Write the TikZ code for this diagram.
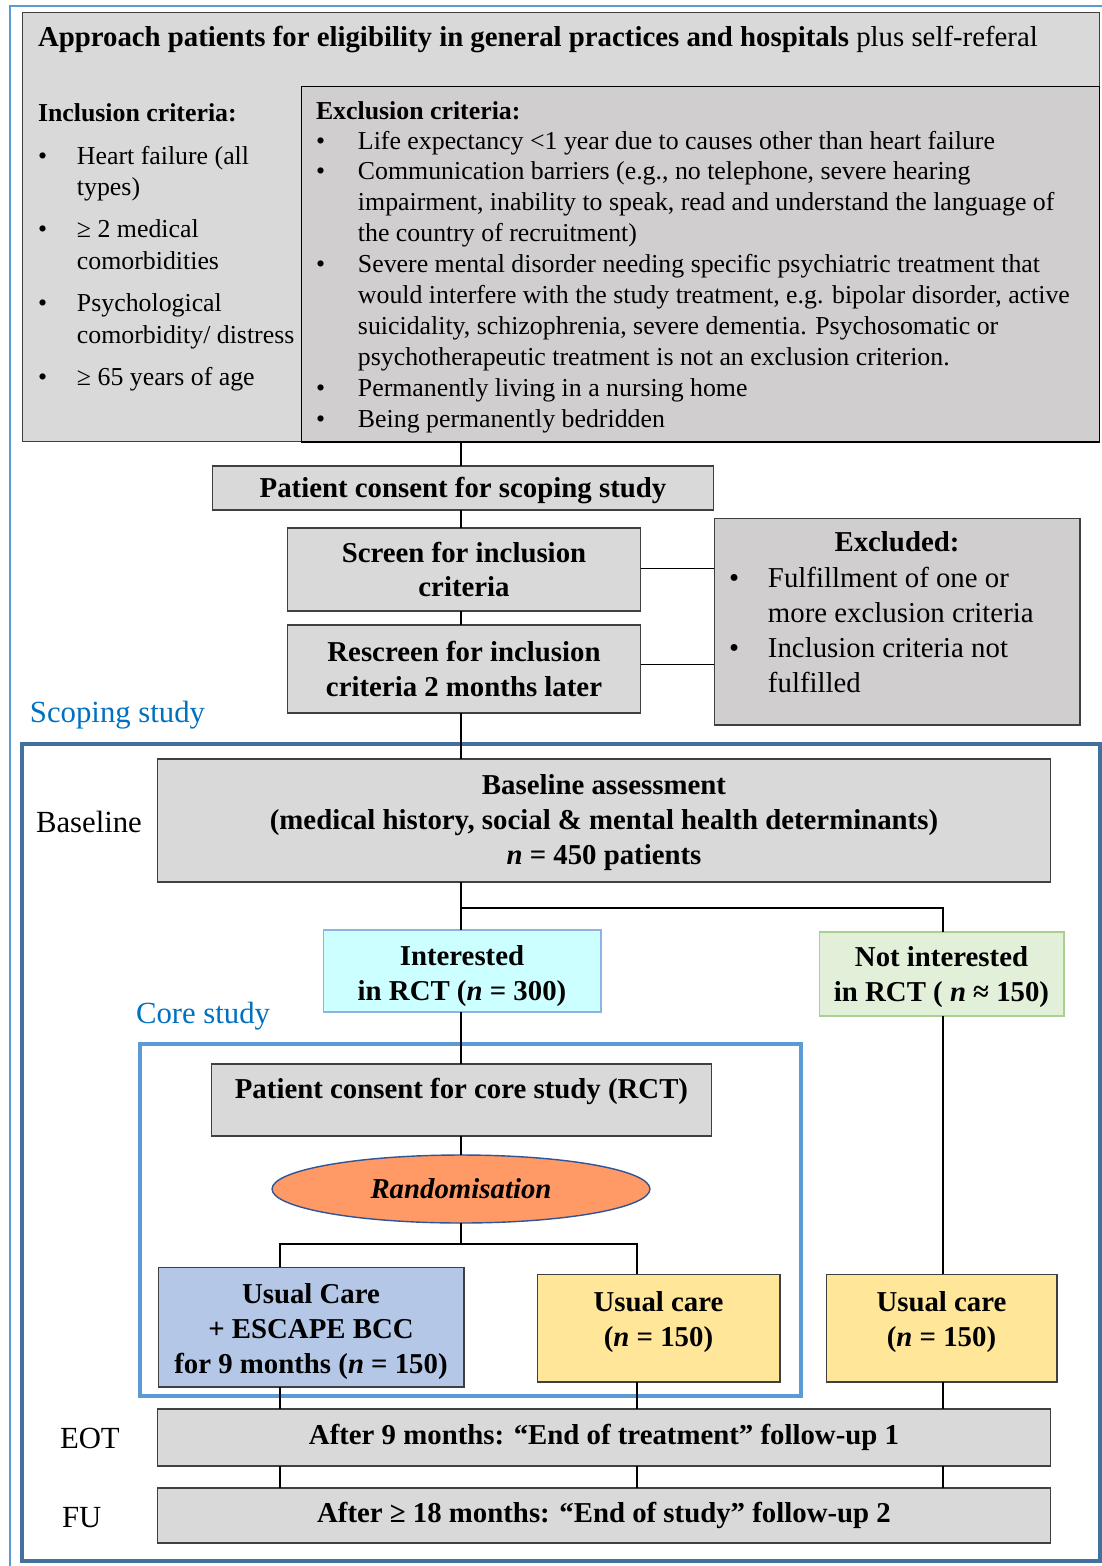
\documentclass[tikz,border=0pt]{standalone}
\usepackage{fontspec}
\setmainfont{Liberation Serif}
\usetikzlibrary{positioning, shapes.geometric}

\definecolor{boxgray}{HTML}{D9D9D9}
\definecolor{critgray}{HTML}{D0CECE}
\definecolor{labelblue}{HTML}{0070C0}
\definecolor{outerblue}{HTML}{5B9BD5}
\definecolor{frameblue}{HTML}{41719C}
\definecolor{intcyan}{HTML}{CCFFFF}
\definecolor{intedge}{HTML}{8DB3E2}
\definecolor{notgreen}{HTML}{E2EFD9}
\definecolor{notedge}{HTML}{A9D08E}
\definecolor{randorange}{HTML}{FF9966}
\definecolor{randedge}{HTML}{2F5597}
\definecolor{escblue}{HTML}{B4C7E7}
\definecolor{ucyellow}{HTML}{FFE699}

\newcommand{\bodyfont}{\fontsize{14.7}{17.6}\selectfont}
\newcommand{\boxfont}{\fontsize{16.4}{19.9}\selectfont\bfseries}
\newcommand{\sidefont}{\fontsize{17.5}{21}\selectfont}
% extra room above the first line of a box text
\newcommand{\topgap}[1]{\rule{0pt}{#1}}

\begin{document}
\begin{tikzpicture}[
  x=0.02cm, y=-0.02cm,
  every node/.style={inner sep=0pt, outer sep=0pt},
  box/.style={draw=black!75, fill=boxgray, line width=0.6pt},
  boxtxt/.style={font=\boxfont, align=center},
  crit/.style={font=\bodyfont, anchor=base west},
  side/.style={font=\sidefont, anchor=base west},
  stage/.style={font=\sidefont, anchor=base west, text=labelblue},
  conn/.style={draw=black, line width=0.7pt}
]
\useasboundingbox (0,0) rectangle (1102,1566);

% frames
\draw[outerblue, line width=1.2pt] (10,1566) -- (10,6) -- (1102,6);
\draw[frameblue, line width=2pt] (22,744) rectangle (1100,1561);
\draw[outerblue, line width=1.8pt] (140,1044) rectangle (801,1396);

% eligibility
\node[box, minimum width=21.56cm, minimum height=8.6cm] (top) at (561,227) {};
\node[crit, font=\fontsize{16.4}{19.9}\selectfont] (title) at (38,46) {\textbf{Approach patients for eligibility in general practices and hospitals} plus self-referal};
\node[crit] (inchead) at (38,121) {\textbf{Inclusion criteria:}};
\node[crit, font=\fontsize{14.7}{18.2}\selectfont] (inclist) at (38,164) {%
  \begin{tabular}[t]{@{}p{0.78cm}@{}l@{}}
  \textbullet & Heart failure (all\\
  & types)\\[5.7pt]
  \textbullet & ≥ 2 medical\\
  & comorbidities\\[5.7pt]
  \textbullet & Psychological\\
  & comorbidity/ distress\\[5.7pt]
  \textbullet & ≥ 65 years of age
  \end{tabular}};
\node[box, draw=black, fill=critgray, minimum width=15.98cm, minimum height=7.12cm] (exclcrit) at (700.5,264) {};
\node[crit] (exclhead) at (316,119) {\textbf{Exclusion criteria:}};
\node[crit] (excllist) at (316,149) {%
  \begin{tabular}[t]{@{}p{0.84cm}@{}l@{}}
  \textbullet & Life expectancy <1 year due to causes other than heart failure\\
  \textbullet & Communication barriers (e.g., no telephone, severe hearing\\
  & impairment, inability to speak, read and understand the language of\\
  & the country of recruitment)\\
  \textbullet & Severe mental disorder needing specific psychiatric treatment that\\
  & would interfere with the study treatment, e.g. bipolar disorder, active\\
  & suicidality, schizophrenia, severe dementia. Psychosomatic or\\
  & psychotherapeutic treatment is not an exclusion criterion.\\
  \textbullet & Permanently living in a nursing home\\
  \textbullet & Being permanently bedridden
  \end{tabular}};

% scoping study
\node[box, minimum width=10.04cm, minimum height=0.88cm, boxtxt] (scop) at (463,488) {\topgap{14pt}Patient consent for scoping study};
\node[box, minimum width=7.08cm, minimum height=1.66cm, boxtxt] (screen) at (464,569.5) {Screen for inclusion\\criteria};
\node[box, minimum width=7.08cm, minimum height=1.76cm, boxtxt] (rescreen) at (464,669) {Rescreen for inclusion\\criteria 2 months later};
\node[box, fill=critgray, minimum width=7.32cm, minimum height=4.14cm] (excluded) at (897,621.5) {};
\node[boxtxt] (exclhd) at (897,542) {Excluded:};
\node[font=\fontsize{16.4}{20.1}\selectfont, anchor=base west] (exclitems) at (729,587) {%
  \begin{tabular}[t]{@{}p{0.78cm}@{}l@{}}
  \textbullet & Fulfillment of one or\\
  & more exclusion criteria\\
  \textbullet & Inclusion criteria not\\
  & fulfilled
  \end{tabular}};
\node[stage] (scoplabel) at (30,722) {Scoping study};

% baseline
\node[side] (baselabel) at (36,832) {Baseline};
\node[box, minimum width=17.88cm, minimum height=2.46cm, boxtxt] (base) at (604,820.5) {\topgap{14pt}Baseline assessment\\(medical history, social \& mental health determinants)\\\textit{n} = 450 patients};
\node[box, draw=intedge, fill=intcyan, minimum width=5.56cm, minimum height=1.64cm, boxtxt] (inter) at (462,971) {\topgap{17pt}Interested\\in RCT (\textit{n} = 300)};
\node[box, draw=notedge, fill=notgreen, minimum width=4.9cm, minimum height=1.68cm, boxtxt] (notint) at (941.5,974) {\topgap{15pt}Not interested\\in RCT ( \textit{n} ≈ 150)};

% core study
\node[stage] (corelabel) at (136,1023) {Core study};
\node[box, minimum width=10.02cm, boxtxt, text height=0.68cm, text depth=0.76cm] (ccons) at (461.5,1100) {Patient consent for core study (RCT)};
\node[ellipse, draw=randedge, fill=randorange, line width=0.8pt, minimum width=7.56cm, minimum height=1.36cm, boxtxt] (rand) at (461,1189) {\textit{Randomisation}};
\node[box, fill=escblue, minimum width=6.12cm, minimum height=2.4cm, boxtxt] (escape) at (311,1327) {\topgap{17pt}Usual Care\\+ ESCAPE BCC\\for 9 months (\textit{n} = 150)};
\node[box, fill=ucyellow, minimum width=4.86cm, minimum height=2.16cm] (uc1) at (658.5,1328) {};
\node[boxtxt] (uc1txt) at ([yshift=3.4pt]uc1.center) {Usual care\\(\textit{n} = 150)};
\node[box, fill=ucyellow, minimum width=4.62cm, minimum height=2.16cm] (uc2) at (941.5,1328) {};
\node[boxtxt] (uc2txt) at ([yshift=3.4pt]uc2.center) {Usual care\\(\textit{n} = 150)};

% follow-up
\node[side] (eotlabel) at (60,1448) {EOT};
\node[box, minimum width=17.88cm, minimum height=1.14cm, boxtxt] (eot) at (604,1437.5) {After 9 months: “End of treatment” follow-up 1};
\node[side] (fulabel) at (62,1527) {FU};
\node[box, minimum width=17.88cm, minimum height=1.1cm, boxtxt] (fu) at (604,1515.5) {After ≥ 18 months: “End of study” follow-up 2};

% connectors
\coordinate (fork) at (461,908);
\coordinate (split) at (461,1244);
\coordinate (lane1) at (280,1244);
\coordinate (lane2) at (637,1244);
\coordinate (lane3) at (943,1244);
\draw[conn] (scop.north -| fork) -- (top.south -| fork);
\draw[conn] (scop.south -| fork) -- (screen.north -| fork);
\draw[conn] (screen.south -| fork) -- (rescreen.north -| fork);
\draw[conn] ([yshift=0.6pt]screen.east) -- ([yshift=0.6pt]screen.east -| excluded.west);
\draw[conn] ([yshift=2.6pt]rescreen.east) -- ([yshift=2.6pt]rescreen.east -| excluded.west);
\draw[conn] (rescreen.south -| fork) -- (base.north -| fork);
\draw[conn] (base.south -| fork) -- (inter.north -| fork);
\draw[conn] (fork) -- (fork -| lane3) -- (notint.north -| lane3);
\draw[conn] (inter.south -| fork) -- (ccons.north -| fork);
\draw[conn] (ccons.south -| fork) -- (rand.north);
\draw[conn] (rand.south) -- (split);
\draw[conn] (escape.north -| lane1) -- (lane1) -- (lane2) -- (uc1.north -| lane2);
\draw[conn] (notint.south -| lane3) -- (uc2.north -| lane3);
\foreach \lane/\arm in {lane1/escape, lane2/uc1, lane3/uc2} {
  \draw[conn] (\arm.south -| \lane) -- (eot.north -| \lane);
  \draw[conn] (eot.south -| \lane) -- (fu.north -| \lane);
}
\end{tikzpicture}
\end{document}
